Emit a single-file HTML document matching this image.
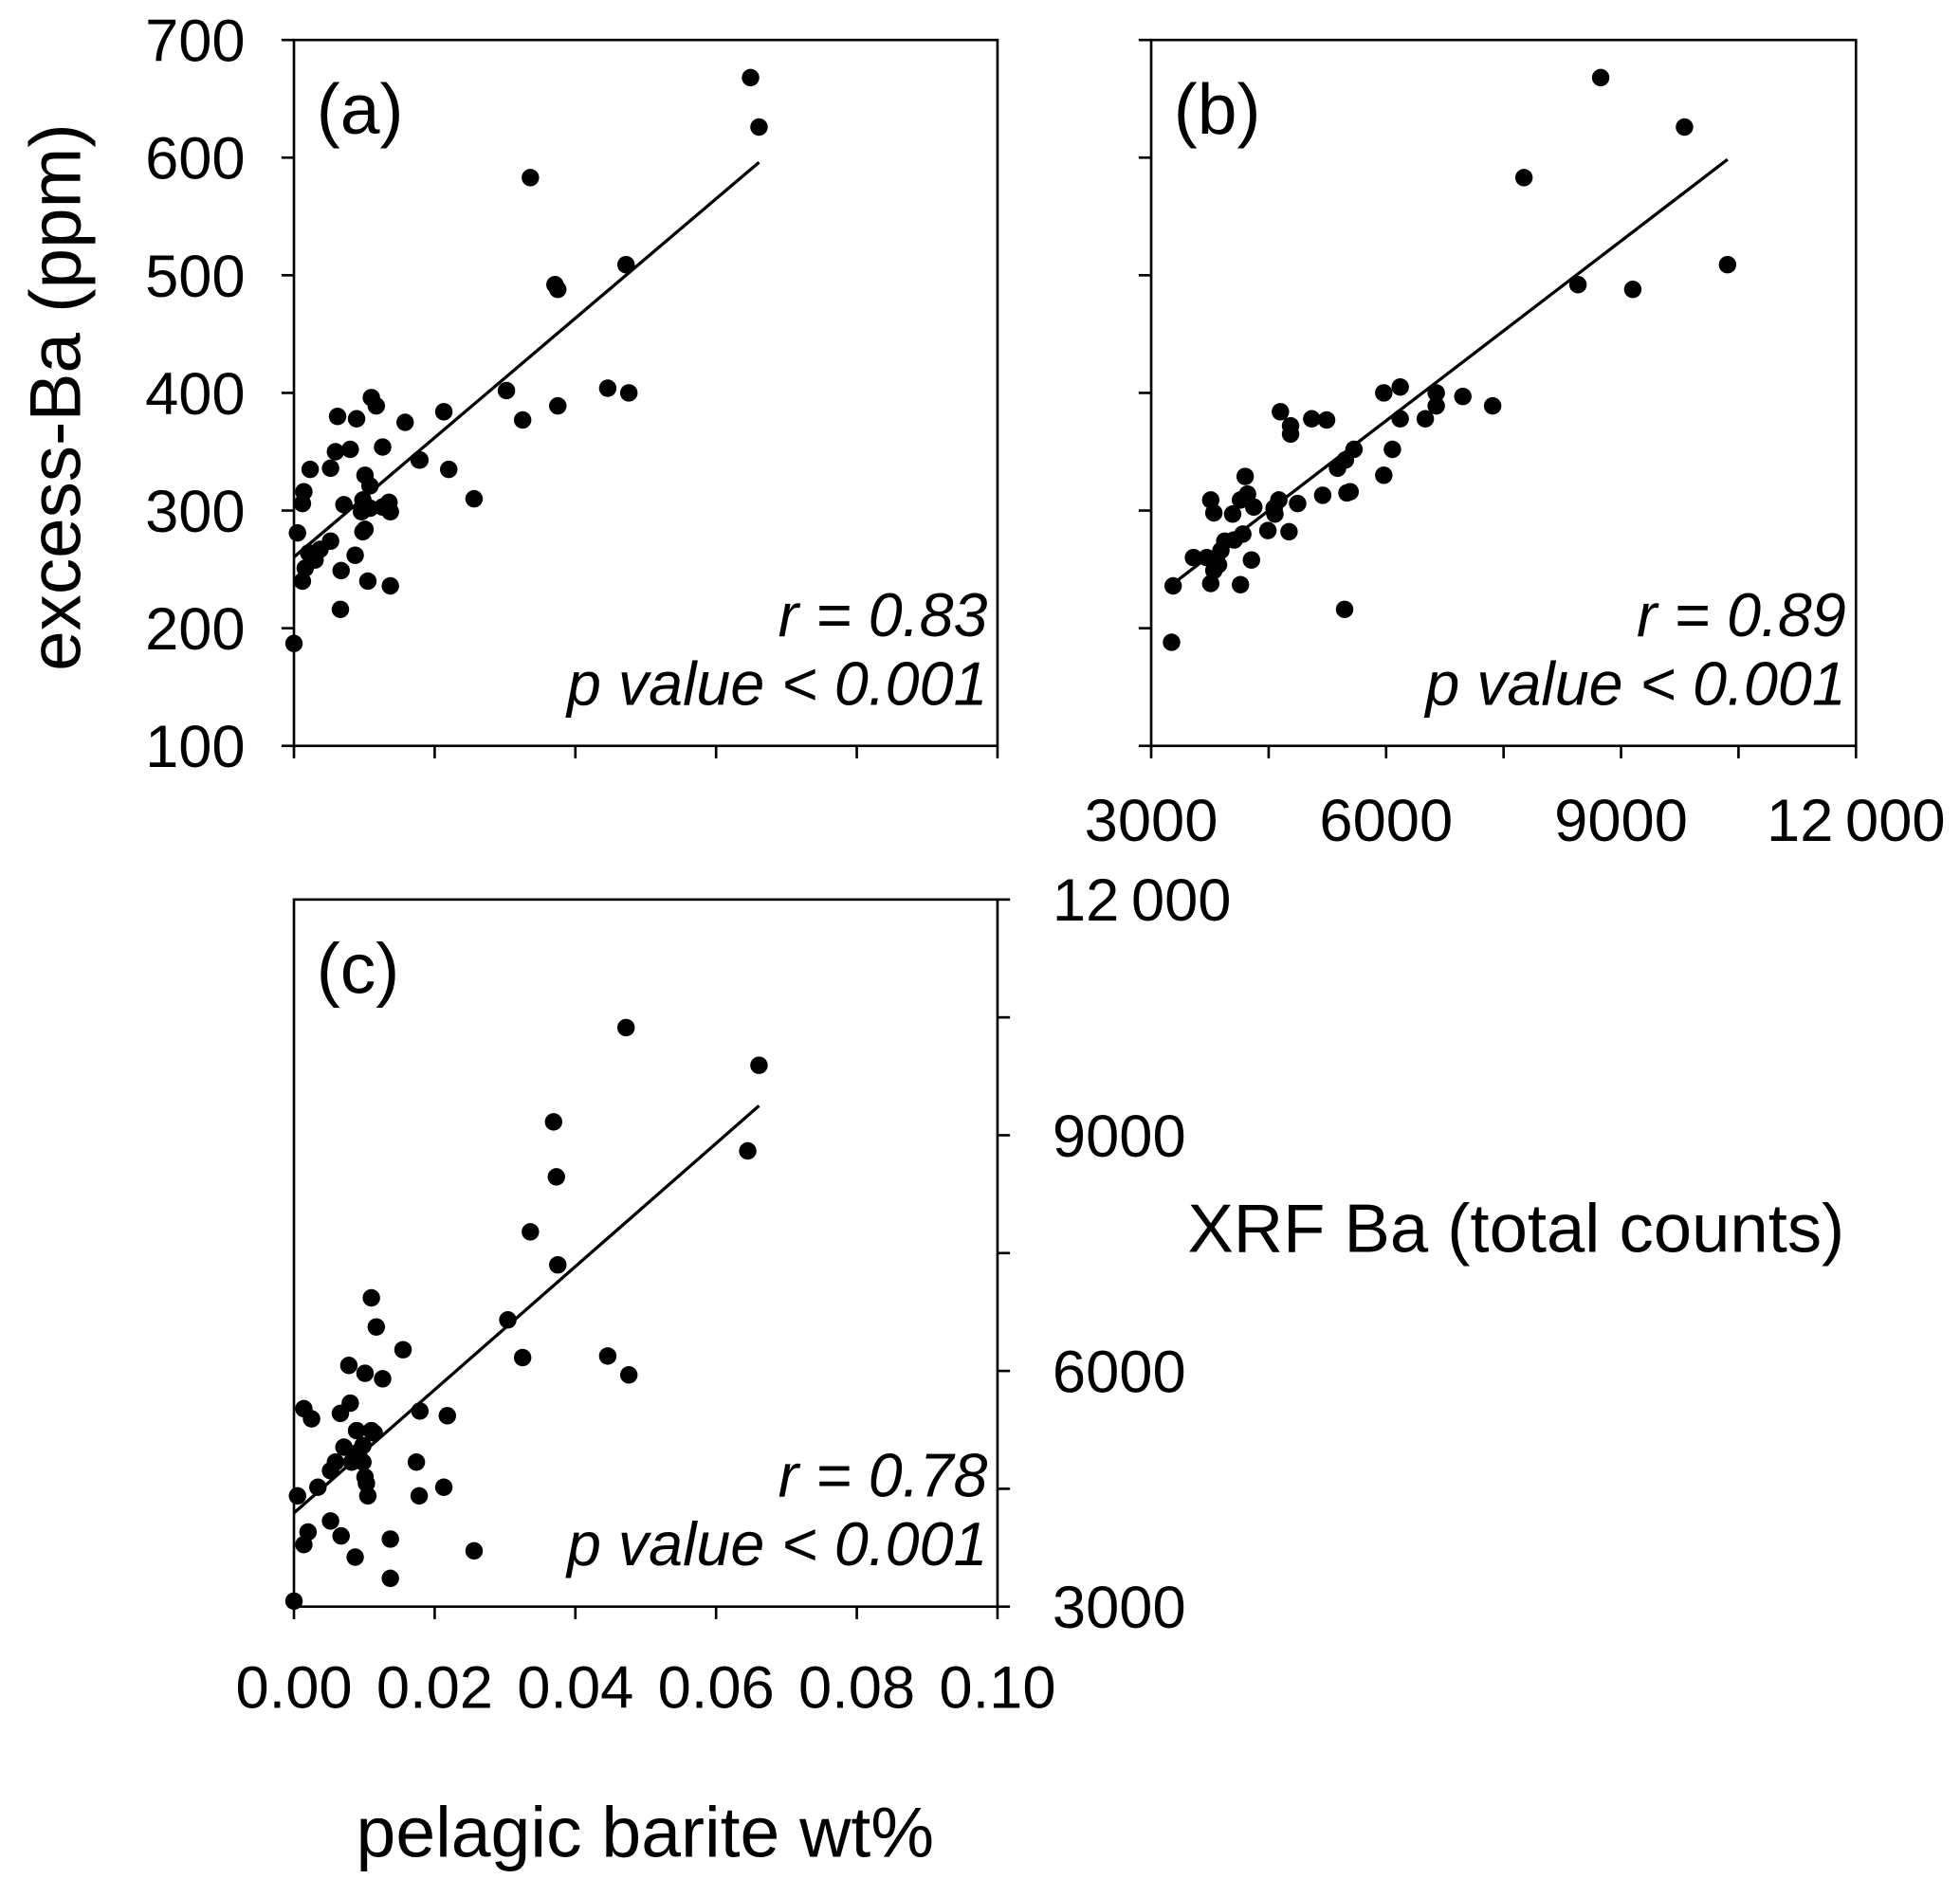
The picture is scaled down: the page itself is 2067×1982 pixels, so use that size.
<!DOCTYPE html>
<html><head><meta charset="utf-8"><style>
html,body{margin:0;padding:0;background:#fff;}
svg{display:block;font-family:"Liberation Sans",Arial,sans-serif;}
</style></head><body>
<svg id="chart" width="2067" height="1982" viewBox="0 0 1568 1504" xmlns="http://www.w3.org/2000/svg">
<g id="root"></g>
</svg>
<script>
// Panel (a): pelagic barite wt% vs excess-Ba (ppm)
const aBarite=[0.0649,0.0661,0.0336,0.0472,0.0371,0.0375,0.0446,0.0476,0.0302,0.0325,0.0375,0.0062,0.0089,0.0110,0.0158,0.0213,0.0117,0.0126,0.0059,0.0080,0.0023,0.0052,0.0014,0.0012,0.0101,0.0108,0.0179,0.0220,0.0256,0.0126,0.0135,0.0071,0.0096,0.0137,0.0101,0.0098,0.0005,0.0052,0.0021,0.0030,0.0037,0.0087,0.0016,0.0067,0.0012,0.0105,0.0137,0.0066,0.0000,0.0178,0.0108,0.0098];
const aExcess=[668,626,583,509,492,488,404,400,402,377,389,380,378,396,375,384,389,354,350,352,335,336,316,306,330,321,343,335,310,303,307,305,299,299,284,282,281,274,264,258,267,262,251,249,240,240,236,216,187,343,302,309];
// Panel (b): XRF Ba counts vs excess-Ba
const bXrf=[8740,9810,7760,10360,8450,9150,6640,7360,6980,6640,6180,5970,6500,6180,6080,5590,5480,5380,5540,5970,4650,5050,5240,4780,4780,4200,4140,4230,4630,4310,4570,3800,4580,4870,4760,4490,4170,3760,4040,3940,3710,3890,4060,3540,4280,3800,3860,4140,3760,3280,5470,3260,5190,5500];
const bExcess=[668,626,583,509,492,488,400,389,397,389,405,400,378,378,352,352,343,336,316,330,384,378,377,372,365,329,309,314,309,303,302,298,297,306,282,283,280,309,297,274,260,266,275,260,258,249,254,237,238,236,216,188,313,315];
// Panel (c): pelagic barite wt% vs XRF Ba counts
const cBarite=[0.0472,0.0661,0.0369,0.0373,0.0645,0.0336,0.0375,0.0304,0.0325,0.0446,0.0476,0.0110,0.0117,0.0155,0.0078,0.0126,0.0101,0.0179,0.0218,0.0014,0.0025,0.0066,0.0080,0.0089,0.0110,0.0098,0.0071,0.0092,0.0059,0.0082,0.0174,0.0114,0.0101,0.0105,0.0052,0.0034,0.0005,0.0178,0.0213,0.0052,0.0020,0.0014,0.0067,0.0137,0.0256,0.0087,0.0137,0.0000,0.0103,0.0098];
const cXrf=[10370,9890,9170,8470,8800,7770,7350,6650,6170,6190,5950,6930,6560,6270,6070,5900,5970,5490,5430,5520,5390,5460,5590,5240,5240,5050,5030,4970,4840,4840,4840,5210,4650,4410,4730,4520,4410,4410,4520,4090,3950,3790,3900,3860,3710,3630,3360,3070,4570,4840];
const aTicksY=[100,200,300,400,500,600,700];
const xTicksBar=[0,0.02,0.04,0.06,0.08,0.10];
const xTickLabelsBar=["0.00","0.02","0.04","0.06","0.08","0.10"];
const xrfTicks=[3000,6000,9000,12000];
const xrfMinor=[3000,4500,6000,7500,9000,10500,12000];
const stats=[["r = 0.83","p value < 0.001"],["r = 0.89","p value < 0.001"],["r = 0.78","p value < 0.001"]];

const NS="http://www.w3.org/2000/svg";
const root=document.getElementById('root');
function mk(tag,attrs,parent,txt){const e=document.createElementNS(NS,tag);for(const k in attrs)e.setAttribute(k,attrs[k]);if(txt!==undefined)e.textContent=txt;(parent||root).appendChild(e);return e;}
function lin(d0,d1,r0,r1){return v=>r0+(v-d0)/(d1-d0)*(r1-r0);}
function fit(xs,ys){const n=xs.length;let mx=0,my=0;for(let i=0;i<n;i++){mx+=xs[i];my+=ys[i];}mx/=n;my/=n;let sxy=0,sxx=0;for(let i=0;i<n;i++){sxy+=(xs[i]-mx)*(ys[i]-my);sxx+=(xs[i]-mx)**2;}const b=sxy/sxx;return [b,my-b*mx];}

function panel(name,L,R,T,B,xs,ys,sx,sy,label,st){
  const g=mk('g',{});
  
  
  const box=mk('rect',{x:L,y:T,width:R-L,height:B-T,fill:'none',stroke:'#000','stroke-width':2},g);
  
  
  for(let i=0;i<xs.length;i++){
    const c=mk('circle',{cx:sx(xs[i]),cy:sy(ys[i]),r:7,fill:'#000'},g);
    
    
  }
  const [b,a]=fit(xs,ys);
  let x0=Math.min(...xs),x1=Math.max(...xs);
  const ln=mk('line',{x1:sx(x0),y1:sy(a+b*x0),x2:sx(x1),y2:sy(a+b*x1),stroke:'#000','stroke-width':2.5},g);
  
  
  const t=mk('text',{x:L+18,y:T+75,'font-size':57},g,label);
  
  
  const r1=mk('text',{x:R-8,y:B-88,'font-size':49,'font-style':'italic','text-anchor':'end'},g,st[0]);
  
  
  const p1=mk('text',{x:R-8,y:B-33,'font-size':49,'font-style':'italic','text-anchor':'end'},g,st[1]);
  
  
  return g;
}
function tick(x1,y1,x2,y2){const l=mk('line',{x1,y1,x2,y2,stroke:'#000','stroke-width':2});}

const TF=48;
// Panel a
const axA=lin(0,0.1,235,798), ayA=lin(100,700,597,32);
panel('panel-a',235,798,32,597,aBarite,aExcess,axA,ayA,'(a)',stats[0]);
aTicksY.forEach(v=>{tick(225,ayA(v),235,ayA(v));const t=mk('text',{x:196,y:ayA(v)+17,'font-size':TF,'text-anchor':'end'},root,String(v));});
xTicksBar.forEach(v=>tick(axA(v),597,axA(v),607));

// Panel b
const bxS=lin(3000,12000,921,1485), byS=lin(100,700,597,32);
panel('panel-b',921,1485,32,597,bXrf,bExcess,bxS,byS,'(b)',stats[1]);
aTicksY.forEach(v=>tick(911,byS(v),921,byS(v)));
xrfMinor.forEach(v=>tick(bxS(v),597,bxS(v),607));
xrfTicks.forEach(v=>{const t=mk('text',{x:bxS(v),y:673,'font-size':TF,'text-anchor':'middle'},root,String(v).replace(/^12000$/,'12\u2009000'));});

// Panel c
const cx=lin(0,0.1,235,798), cy=lin(3000,12000,1286,720);
panel('panel-c',235,798,720,1286,cBarite,cXrf,cx,cy,'(c)',stats[2]);
xTicksBar.forEach((v,i)=>{tick(cx(v),1286,cx(v),1296);const t=mk('text',{x:cx(v),y:1367,'font-size':TF,'text-anchor':'middle'},root,xTickLabelsBar[i]);});
xrfMinor.forEach(v=>tick(798,cy(v),808,cy(v)));
xrfTicks.forEach(v=>{const t=mk('text',{x:842,y:cy(v)+17,'font-size':TF},root,String(v).replace(/^12000$/,'12\u2009000'));});

// Titles
const yt=mk('text',{x:0,y:0,'font-size':58,'text-anchor':'middle',transform:'translate(64,318) rotate(-90)'},root,'excess-Ba (ppm)');


const xr=mk('text',{x:1213,y:1002,'font-size':55,'text-anchor':'middle'},root,'XRF Ba (total counts)');


const xt=mk('text',{x:516,y:1486,'font-size':57,'text-anchor':'middle'},root,'pelagic barite wt%');


</script>
</body></html>
